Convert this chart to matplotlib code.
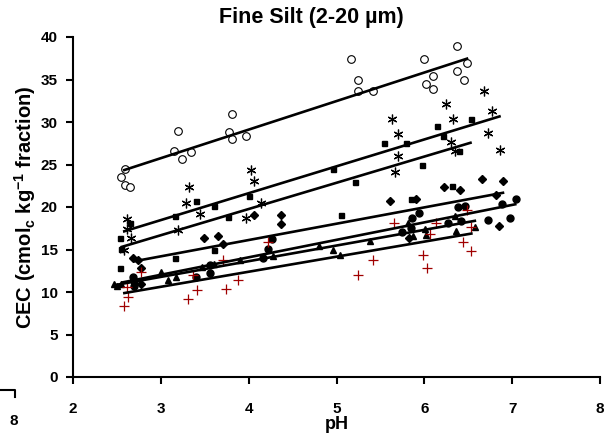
import numpy as np
import matplotlib
matplotlib.use("Agg")
import matplotlib.pyplot as plt
from matplotlib.lines import Line2D

plt.rcParams["font.family"] = ["Liberation Sans", "DejaVu Sans"]
plt.rcParams["font.weight"] = "bold"
plt.rcParams["mathtext.fontset"] = "custom"
plt.rcParams["mathtext.rm"] = "Liberation Sans:bold"

# --- data ---
circ_open_x = [2.59, 2.55, 2.59, 2.65, 3.15, 3.20, 3.24, 3.34, 3.78, 3.81, 3.81, 3.97,
               5.16, 5.24, 5.25, 5.42, 6.00, 6.02, 6.10, 6.10, 6.37, 6.37, 6.45, 6.49]
circ_open_y = [24.5, 23.5, 22.6, 22.4, 26.6, 29.0, 25.7, 26.5, 28.8, 31.0, 28.0, 28.3,
               37.4, 35.0, 33.6, 33.6, 37.4, 34.5, 35.4, 33.9, 38.9, 36.0, 34.9, 36.9]

aster_x = [2.62, 2.61, 2.66, 2.58, 3.32, 3.29, 3.45, 3.19, 4.03, 4.06, 4.14, 3.97,
           5.63, 5.70, 5.70, 5.67, 6.25, 6.33, 6.30, 6.35, 6.68, 6.77, 6.73, 6.86]
aster_y = [18.55, 17.4, 16.4, 14.9, 22.3, 20.5, 19.2, 17.3, 24.3, 23.1, 20.5, 18.7,
           30.35, 28.6, 25.95, 24.1, 32.1, 30.4, 27.6, 26.6, 33.6, 31.3, 28.7, 26.7]

square_x = [2.54, 2.53, 2.65, 2.55, 3.16, 3.16, 3.40, 3.61, 3.61, 3.77, 4.00, 4.96,
            5.05, 5.21, 5.54, 5.79, 5.85, 5.97, 6.14, 6.21, 6.31, 6.39, 6.53]
square_y = [16.3, 12.8, 18.1, 15.1, 19.0, 14.0, 20.7, 20.15, 14.9, 18.8, 21.3, 24.5,
            19.06, 22.9, 27.5, 27.5, 21.0, 24.9, 29.5, 28.4, 22.5, 26.6, 30.35]

diam_x = [2.68, 2.74, 2.77, 2.77, 3.49, 3.65, 3.71, 4.06, 4.37, 4.37,
          5.61, 5.82, 5.91, 6.22, 6.41, 6.66, 6.82, 6.85, 6.90]
diam_y = [14.0, 13.76, 12.8, 10.9, 16.4, 16.6, 15.7, 19.1, 19.06, 17.96,
          20.7, 16.4, 21.0, 22.4, 22.0, 23.3, 21.4, 17.76, 23.06]

circ_fill_x = [2.68, 2.69, 2.69, 3.40, 3.56, 3.56, 4.16, 4.22, 4.26, 5.75, 5.85, 5.86,
               5.94, 6.27, 6.38, 6.42, 6.46, 6.73, 6.88, 6.98, 7.04]
circ_fill_y = [11.76, 11.3, 10.7, 11.8, 12.2, 13.2, 13.96, 15.1, 16.2, 17.1, 17.5, 18.67,
               19.3, 18.15, 20.0, 18.4, 20.15, 18.5, 20.3, 18.7, 21.0]

tri_x = [2.47, 2.50, 2.55, 3.00, 3.08, 3.17, 3.47, 3.61, 3.90, 4.28, 4.80, 4.96, 5.04,
         5.38, 5.81, 5.87, 6.01, 6.02, 6.35, 6.36, 6.58]
tri_y = [10.9, 10.7, 10.9, 12.4, 11.4, 11.8, 13.0, 13.3, 13.8, 14.2, 15.45, 14.9, 14.35,
         16.0, 18.15, 16.55, 17.4, 16.7, 18.9, 17.2, 17.6]

plus_x = [2.62, 2.63, 2.58, 2.77, 3.31, 3.41, 3.37, 3.74, 3.88, 3.71, 4.22,
          5.25, 5.41, 5.66, 5.99, 6.03, 6.06, 6.13, 6.44, 6.49, 6.53, 6.53]
plus_y = [10.55, 9.45, 8.4, 12.3, 9.2, 10.2, 12.0, 10.35, 11.4, 13.8, 15.9,
          11.96, 13.76, 18.1, 14.4, 12.8, 16.8, 18.15, 15.9, 19.6, 17.7, 14.86]

# regression lines: ([x start, x end], [y start, y end])
fit_open   = ([2.57, 6.50], [24.3, 37.5])
fit_aster  = ([2.57, 6.87], [17.1, 30.7])
fit_square = ([2.54, 6.54], [15.26, 27.6])
fit_diam   = ([2.69, 6.91], [13.6, 21.7])
fit_cfill  = ([2.55, 7.05], [11.1, 20.35])
fit_tri    = ([2.47, 6.59], [10.8, 18.4])
fit_plus   = ([2.57, 6.55], [9.85, 16.9])

fig = plt.figure(figsize=(6.13, 4.45), dpi=100)
ax = fig.add_axes([73 / 613, 1 - 377 / 445, 527 / 613, 340 / 445])

for fx, fy in [fit_open, fit_aster, fit_square, fit_diam, fit_cfill, fit_tri, fit_plus]:
    ax.plot(fx, fy, color="black", lw=1.9, zorder=3, solid_capstyle="butt")

ax.plot(circ_open_x, circ_open_y, "o", mfc="white", mec="black", mew=0.8, ms=5.5, ls="none", zorder=2)
ax.plot(aster_x, aster_y, marker=(6, 2, 0), color="black", mew=0.9, ms=7, ls="none", zorder=2)
ax.plot(square_x, square_y, "s", color="black", ms=3.6, ls="none", zorder=2)
ax.plot(diam_x, diam_y, "D", color="black", ms=3.6, ls="none", zorder=2)
ax.plot(circ_fill_x, circ_fill_y, "o", color="black", ms=5, ls="none", zorder=2)
ax.plot(tri_x, tri_y, "^", color="black", ms=5, ls="none", zorder=2)
ax.plot(plus_x, plus_y, "+", color="#a00000", mew=0.9, ms=6.5, ls="none", zorder=2)

ax.set_xlim(2, 8)
ax.set_ylim(0, 40)
ax.set_xticks(range(2, 9))
ax.set_yticks(range(0, 41, 5))
for s in ["top", "right"]:
    ax.spines[s].set_visible(False)
for s in ["left", "bottom"]:
    ax.spines[s].set_linewidth(1.5)
ax.tick_params(direction="out", length=5, width=1.5, labelsize=11)
ax.tick_params(axis="x", pad=13)
ax.tick_params(axis="y", pad=6)
ax.set_xlabel("pH", fontsize=13, fontweight="bold", labelpad=0)
ax.set_ylabel(r"CEC (cmol$_\mathrm{c}$ kg$^\mathrm{-1}$ fraction)", fontsize=14.5,
              fontweight="bold", labelpad=2)
fig.text(311 / 613, 1 - 18 / 445, "Fine Silt (2-20 \u00b5m)", ha="center", va="center",
         fontsize=15.5, fontweight="bold")

# remnant of the neighbouring panel at the bottom-left edge
fig.add_artist(Line2D([0, 14.5 / 613, 14.5 / 613], [1 - 390 / 445, 1 - 390 / 445, 1 - 397 / 445],
                      color="black", lw=1.5, transform=fig.transFigure))
fig.text(14 / 613, 1 - 421 / 445, "8", ha="center", va="center", fontsize=11, fontweight="bold")

fig.savefig("out.png", dpi=100)
